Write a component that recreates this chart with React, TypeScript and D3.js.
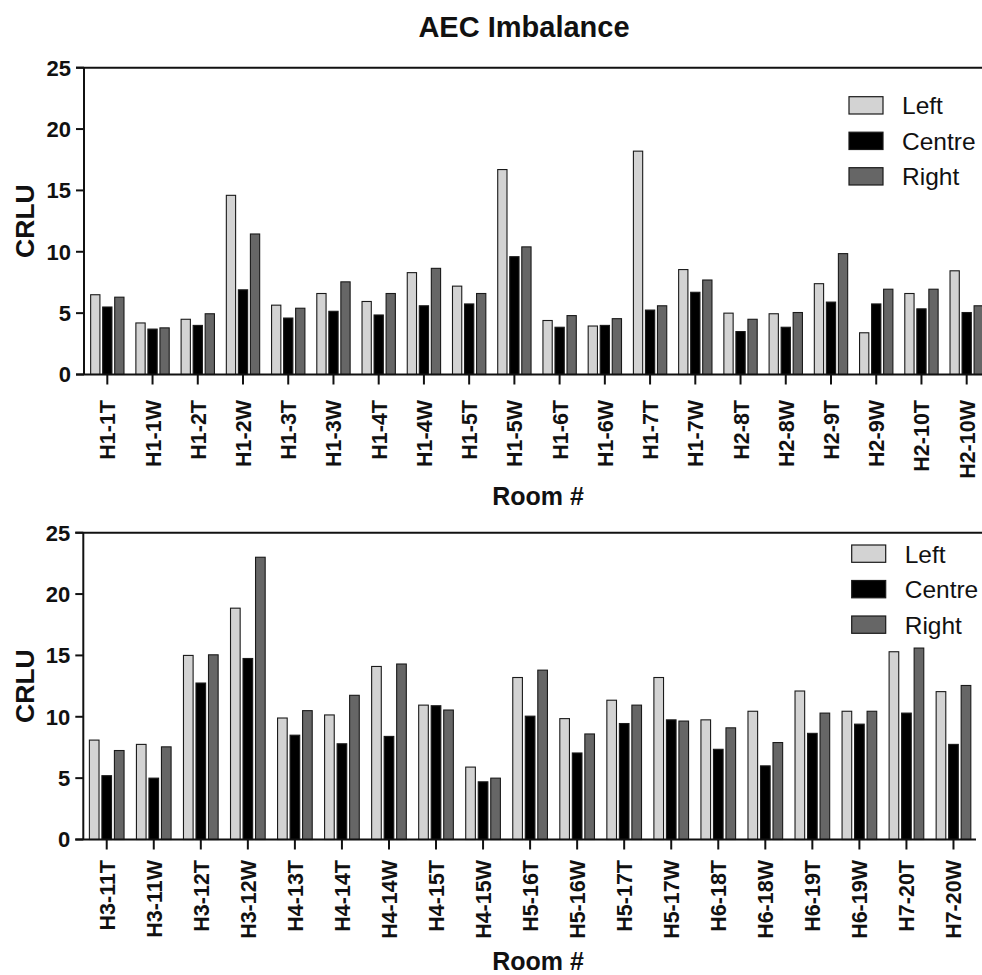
import React from "react";
import * as d3 from "d3";

const series = ["Left", "Centre", "Right"];
const seriesFill = ["#d3d3d3", "#000000", "#666666"];

const topCategories = ["H1-1T","H1-1W","H1-2T","H1-2W","H1-3T","H1-3W","H1-4T","H1-4W","H1-5T","H1-5W","H1-6T","H1-6W","H1-7T","H1-7W","H2-8T","H2-8W","H2-9T","H2-9W","H2-10T","H2-10W"];
const topLeft = [6.5,4.2,4.5,14.6,5.65,6.6,5.95,8.3,7.2,16.7,4.4,3.95,18.2,8.55,5.0,4.95,7.4,3.4,6.6,8.45];
const topCentre = [5.5,3.7,4.0,6.9,4.6,5.15,4.85,5.6,5.75,9.6,3.85,4.0,5.25,6.7,3.5,3.85,5.9,5.75,5.35,5.05];
const topRight = [6.3,3.8,4.95,11.45,5.4,7.55,6.6,8.65,6.6,10.4,4.8,4.55,5.6,7.7,4.5,5.05,9.85,6.95,6.95,5.6];

const bottomCategories = ["H3-11T","H3-11W","H3-12T","H3-12W","H4-13T","H4-14T","H4-14W","H4-15T","H4-15W","H5-16T","H5-16W","H5-17T","H5-17W","H6-18T","H6-18W","H6-19T","H6-19W","H7-20T","H7-20W"];
const bottomLeft = [8.1,7.75,15.0,18.85,9.9,10.15,14.1,10.95,5.9,13.2,9.85,11.35,13.2,9.75,10.45,12.1,10.45,15.3,12.05];
const bottomCentre = [5.2,5.0,12.75,14.75,8.5,7.8,8.4,10.9,4.7,10.05,7.05,9.45,9.75,7.35,6.0,8.65,9.4,10.3,7.75];
const bottomRight = [7.25,7.55,15.05,23.0,10.5,11.75,14.3,10.55,5.0,13.8,8.6,10.95,9.65,9.1,7.9,10.3,10.45,15.6,12.55];

const yTicks = [0, 5, 10, 15, 20, 25];
const FONT = "'Liberation Sans', Arial, Helvetica, sans-serif";

type PanelProps = {
  categories: string[];
  values: number[][];
  axisX: number;
  xStart: number;
  xEnd: number;
  yTop: number;
  yBottom: number;
  axisLineEnd: number;
  labelTop: number;
  roomY: number;
  legendX: number;
  legendY: number;
};

function Panel(p: PanelProps) {
  const x0 = d3.scaleBand<string>().domain(p.categories).range([p.xStart, p.xEnd]).padding(0);
  const step = x0.step();
  const off = step * 0.266;
  const w = step * 0.205;
  const pin = (off - w) / off;
  const x1 = d3.scaleBand<string>().domain(series).range([-1.5 * off, 1.5 * off]).paddingInner(pin).paddingOuter(pin / 2);
  const y = d3.scaleLinear().domain([0, 25]).range([p.yBottom, p.yTop]);
  const cx = (c: string) => (x0(c) as number) + step / 2;
  return (
    <g>
      {p.categories.map((c, i) => (
        <g key={c}>
          {series.map((s, k) => {
            const v = p.values[k][i];
            return (
              <rect
                key={s}
                x={cx(c) + (x1(s) as number)}
                y={y(v)}
                width={x1.bandwidth()}
                height={y(0) - y(v)}
                fill={seriesFill[k]}
                stroke="#1a1a1a"
                strokeWidth={1.1}
              />
            );
          })}
        </g>
      ))}
      <line x1={p.axisX - 8} x2={982} y1={y(25)} y2={y(25)} stroke="#111" strokeWidth={2} />
      <line x1={p.axisX} x2={p.axisX} y1={y(25)} y2={y(0)} stroke="#111" strokeWidth={2} />
      {yTicks.map((t) => (
        <g key={t}>
          <line x1={p.axisX - 8} x2={p.axisX} y1={y(t)} y2={y(t)} stroke="#111" strokeWidth={2} />
          <text x={p.axisX - 13} y={y(t)} dy="0.36em" textAnchor="end" fontFamily={FONT} fontWeight="bold" fontSize={22} fill="#111">
            {t}
          </text>
        </g>
      ))}
      <line x1={p.axisX - 8} x2={p.axisLineEnd} y1={y(0)} y2={y(0)} stroke="#111" strokeWidth={2} />
      {p.categories.map((c) => (
        <g key={"t" + c}>
          <line x1={cx(c)} x2={cx(c)} y1={y(0)} y2={y(0) + 10} stroke="#111" strokeWidth={2} />
          <text
            transform={`translate(${cx(c)},${p.labelTop}) rotate(-90)`}
            dy="0.37em"
            textAnchor="end"
            fontFamily={FONT}
            fontWeight="bold"
            fontSize={21.5}
            fill="#111"
          >
            {c}
          </text>
        </g>
      ))}
      <text
        transform={`translate(24,${(y(0) + y(25)) / 2}) rotate(-90)`}
        dy="0.36em"
        textAnchor="middle"
        fontFamily={FONT}
        fontWeight="bold"
        fontSize={26.5}
        fill="#111"
      >
        CRLU
      </text>
      <text x={538} y={p.roomY} textAnchor="middle" fontFamily={FONT} fontWeight="bold" fontSize={25} fill="#111">
        Room #
      </text>
      {series.map((s, k) => (
        <g key={"lg" + s}>
          <rect x={p.legendX} y={p.legendY + k * 35.5} width={34} height={17.3} fill={seriesFill[k]} stroke="#1a1a1a" strokeWidth={1.2} />
          <text x={p.legendX + 53} y={p.legendY + k * 35.5 + 17.5} fontFamily={FONT} fontSize={24.5} fill="#111">
            {s}
          </text>
        </g>
      ))}
    </g>
  );
}

export default function App() {
  return (
    <svg width={982} height={975} style={{ position: "absolute", left: 0, top: 0, background: "#fff" }}>
      <rect x={0} y={0} width={982} height={975} fill="#fff" />
      <text x={524} y={36.7} textAnchor="middle" fontFamily={FONT} fontWeight="bold" fontSize={29} fill="#111">
        AEC Imbalance
      </text>
      <Panel
        categories={topCategories}
        values={[topLeft, topCentre, topRight]}
        axisX={84}
        xStart={84.7}
        xEnd={989.3}
        yTop={67.7}
        yBottom={374.5}
        axisLineEnd={982}
        labelTop={400}
        roomY={505}
        legendX={849}
        legendY={96.7}
      />
      <Panel
        categories={bottomCategories}
        values={[bottomLeft, bottomCentre, bottomRight]}
        axisX={83.3}
        xStart={83.2}
        xEnd={977}
        yTop={532.7}
        yBottom={839.5}
        axisLineEnd={976}
        labelTop={860}
        roomY={970}
        legendX={851.7}
        legendY={545}
      />
    </svg>
  );
}
